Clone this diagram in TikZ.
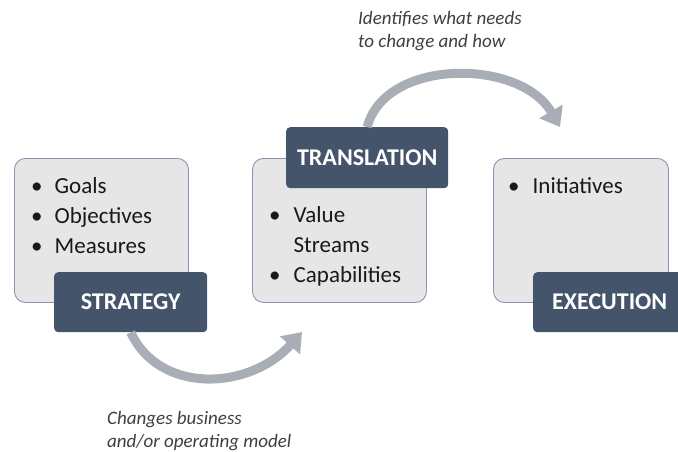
\documentclass[tikz,border=0pt]{standalone}
\usepackage{fontspec}
\setmainfont{Carlito}
\usetikzlibrary{arrows.meta}

\definecolor{boxfill}{HTML}{E7E6E6}
\definecolor{boxline}{HTML}{8496B0}
\definecolor{slate}{HTML}{44546A}
\definecolor{flow}{HTML}{A9ADB5}
\definecolor{note}{HTML}{3F3F3F}

\tikzset{
  panel/.style={draw=boxline, line width=0.9pt, fill=boxfill, rounded corners=11pt,
    minimum width=174pt, minimum height=144pt, anchor=north west, inner sep=0pt},
  stage/.style={fill=slate, text=white, rounded corners=4pt, minimum width=153pt,
    minimum height=60pt, anchor=north west, inner sep=0pt,
    font=\fontsize{24}{28}\selectfont\bfseries},
  items/.style={anchor=base west, inner sep=0pt, text=black!90,
    font=\fontsize{23}{30}\selectfont},
  remark/.style={anchor=base west, inner sep=0pt, text=note,
    font=\fontsize{19}{23}\selectfont\itshape},
  flowarrow/.style={draw=flow, line width=9pt, -{Triangle[length=18pt,width=26pt]}}
}

\begin{document}
\begin{tikzpicture}[x=1pt, y=-1pt]
    \useasboundingbox (0,0) rectangle (678,451);

    % content panels
    \node[panel] (p1) at (14,158) {};
    \node[panel] (p2) at (252,158) {};
    \node[panel, minimum width=175pt] (p3) at (493,158) {};

    \node[items] (l1) at (31,193) {\begin{tabular}[t]{@{}l@{\hspace{12pt}}l@{}}
        \textbullet & Goals\\ \textbullet & Objectives\\ \textbullet & Measures\end{tabular}};
    \node[items] (l2) at (269,222) {\begin{tabular}[t]{@{}l@{\hspace{13pt}}l@{}}
        \textbullet & Value\\ & Streams\\ \textbullet & Capabilities\end{tabular}};
    \node[items] (l3) at (508,193) {\begin{tabular}[t]{@{}l@{\hspace{13pt}}l@{}}
        \textbullet & Initiatives\end{tabular}};

    % stage labels
    \node[stage] (strategy) at (54,272) {STRATEGY};
    \node[stage, minimum width=162pt, minimum height=61pt] (translation) at (286,127) {TRANSLATION};
    \node[stage] (execution) at (533,272) {EXECUTION};

    % curved arrows between stages
    \coordinate (tipA) at (302,332);
    \coordinate (tipB) at (560,127);
    \draw[flowarrow] (strategy.south) .. controls (160,395) and (250,390) .. (tipA);
    \draw[flowarrow] (translation.north) .. controls (385,58) and (520,58) .. (tipB);

    % notes
    \node[remark] (n1) at (358,24) {\begin{tabular}[t]{@{}l@{}}Identifies what needs\\ to change and how\end{tabular}};
    \node[remark] (n2) at (107,424) {\begin{tabular}[t]{@{}l@{}}Changes business\\ and/or operating model\end{tabular}};
\end{tikzpicture}
\end{document}
